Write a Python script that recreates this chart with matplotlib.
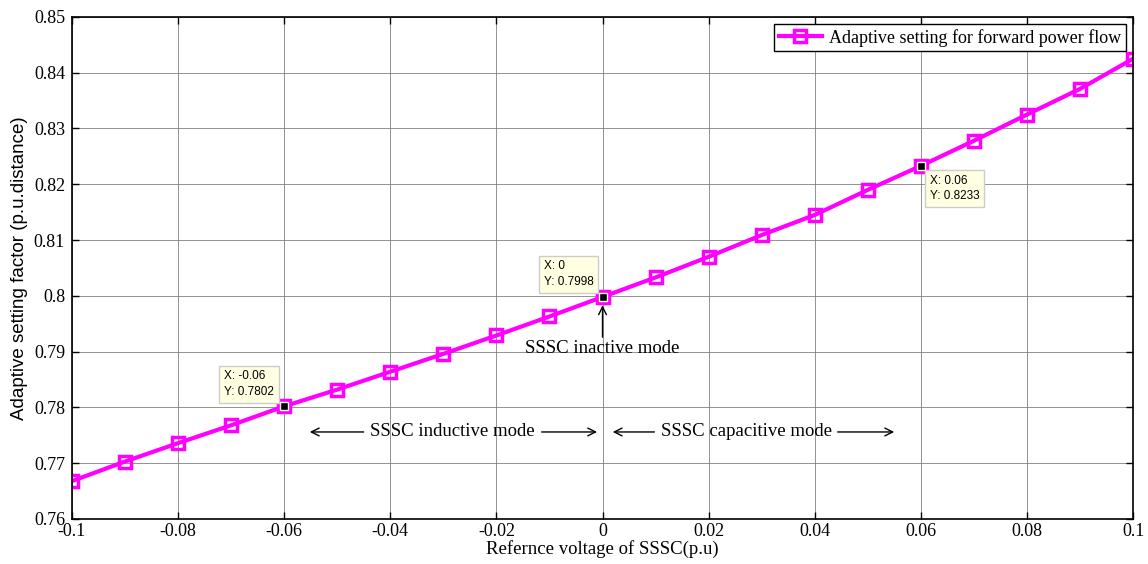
import numpy as np
import matplotlib
matplotlib.use('Agg')
import matplotlib.pyplot as plt

# values
x_vals = [-0.10, -0.09, -0.08, -0.07, -0.06, -0.05, -0.04, -0.03, -0.02, -0.01, 0.00,
          0.01, 0.02, 0.03, 0.04, 0.05, 0.06, 0.07, 0.08, 0.09, 0.10]
y_vals = [0.7668, 0.7703, 0.7736, 0.7768, 0.7802, 0.7832, 0.7864, 0.7896, 0.7929, 0.7963, 0.7998,
          0.8033, 0.8070, 0.8109, 0.8145, 0.8190, 0.8233, 0.8278, 0.8325, 0.8371, 0.8425]
tip_x = [-0.06, 0.0, 0.06]
tip_y = [0.7802, 0.7998, 0.8233]
tip_text = ['X: -0.06\nY: 0.7802', 'X: 0\nY: 0.7998', 'X: 0.06\nY: 0.8233']
x_ticks = [-0.1, -0.08, -0.06, -0.04, -0.02, 0, 0.02, 0.04, 0.06, 0.08, 0.1]
x_ticklabels = ['-0.1', '-0.08', '-0.06', '-0.04', '-0.02', '0', '0.02', '0.04', '0.06', '0.08', '0.1']
y_ticks = [0.76, 0.77, 0.78, 0.79, 0.80, 0.81, 0.82, 0.83, 0.84, 0.85]
y_ticklabels = ['0.76', '0.77', '0.78', '0.79', '0.8', '0.81', '0.82', '0.83', '0.84', '0.85']

serif = 'Liberation Serif'
sans = 'Liberation Sans'


def main():
    fig = plt.figure(figsize=(11.48, 5.64), dpi=100)
    ax = fig.add_axes([0.0627, 0.0798, 0.9243, 0.8902])

    ax.plot(x_vals, y_vals, color='magenta', lw=3, marker='s', ms=8.5,
            mfc='none', mec='magenta', mew=2.5,
            label='Adaptive setting for forward power flow')

    ax.set_xlim(-0.1, 0.1)
    ax.set_ylim(0.76, 0.85)
    ax.set_xticks(x_ticks)
    ax.set_xticklabels(x_ticklabels, fontfamily=serif, fontsize=13)
    ax.set_yticks(y_ticks)
    ax.set_yticklabels(y_ticklabels, fontfamily=serif, fontsize=13)
    ax.tick_params(direction='in', top=True, right=True, length=5, width=1)
    ax.tick_params(axis='x', pad=3)
    ax.tick_params(axis='y', pad=5)
    ax.grid(True, color='#777777', lw=0.7, ls='-', alpha=0.8)
    for s in ax.spines.values():
        s.set_linewidth(1.2)

    ax.set_xlabel('Refernce voltage of SSSC(p.u)', fontfamily=serif, fontsize=13.5, labelpad=0)
    ax.set_ylabel('Adaptive setting factor (p.u.distance)', fontfamily=sans, fontsize=13.5, labelpad=4)

    # data tips
    ax.plot(tip_x, tip_y, ls='none', marker='s', ms=6, mfc='black', mec='#ffffe1', mew=1, zorder=5)
    box = dict(boxstyle='square,pad=0.4', fc='#ffffe1', ec='#cccccc', lw=1)
    offsets = [(-7.5, 6.0), (-6.5, 6.5), (6.5, -6.5)]
    aligns = [('right', 'bottom'), ('right', 'bottom'), ('left', 'top')]
    for tx, ty, t, off, al in zip(tip_x, tip_y, tip_text, offsets, aligns):
        ax.annotate(t, xy=(tx, ty), xytext=off, textcoords='offset points',
                    ha=al[0], va=al[1], multialignment='left', fontfamily=sans,
                    fontsize=8.5, linespacing=1.4, bbox=box)

    # mode annotations
    arr = dict(arrowstyle='->', color='black', lw=1, mutation_scale=14)
    ax.annotate('', xy=(0, 0.7988), xytext=(0, 0.7921), arrowprops=arr)
    ax.text(0, 0.7905, 'SSSC inactive mode', fontfamily=serif, fontsize=13.5, ha='center', va='center')

    ya = 0.7756
    ax.annotate('', xy=(-0.0557, ya), xytext=(-0.0445, ya), arrowprops=arr)
    ax.text(-0.0283, ya, 'SSSC inductive mode', fontfamily=serif, fontsize=13.5, ha='center', va='center')
    ax.annotate('', xy=(-0.0005, ya), xytext=(-0.0120, ya), arrowprops=arr)
    ax.annotate('', xy=(0.0014, ya), xytext=(0.0103, ya), arrowprops=arr)
    ax.text(0.0272, ya, 'SSSC capacitive mode', fontfamily=serif, fontsize=13.5, ha='center', va='center')
    ax.annotate('', xy=(0.0555, ya), xytext=(0.0438, ya), arrowprops=arr)

    leg = ax.legend(loc='upper right', prop={'family': serif, 'size': 13}, fancybox=False,
                    edgecolor='black', framealpha=1, borderaxespad=0.4, handlelength=2.4,
                    borderpad=0.25, handletextpad=0.4)
    leg.get_frame().set_linewidth(1)

    fig.savefig('out.png', dpi=100)


if __name__ == '__main__':
    main()
